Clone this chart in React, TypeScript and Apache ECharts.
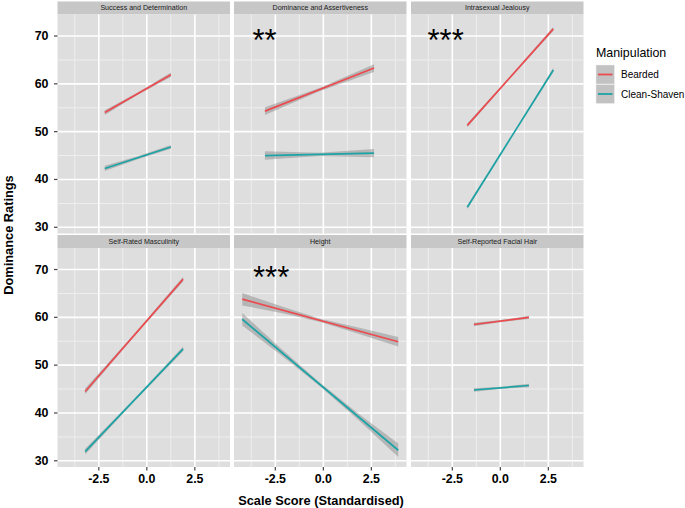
import React, { useEffect, useRef } from "react";
import * as echarts from "echarts";

const panelTitles = [
  "Success and Determination",
  "Dominance and Assertiveness",
  "Intrasexual Jealousy",
  "Self-Rated Masculinity",
  "Height",
  "Self-Reported Facial Hair",
];
const groupNames = ["Bearded", "Clean-Shaven"];
const groupColors = ["#EB4A4E", "#1BA3A6"];
const significance = ["", "**", "***", "", "***", ""];

const xTickLabels = [-2.5, 0, 2.5];
const xMinorTicks = [-3.75, -1.25, 1.25, 3.75];
const yTickLabels = [30, 40, 50, 60, 70];
const yMinorTicks = [35, 45, 55, 65];

// fitted regression lines (endpoints), per panel
const beardedLines = [
  [[-2.19, 54.0], [1.25, 61.9]],
  [[-3.04, 54.3], [2.64, 63.3]],
  [[-1.72, 51.3], [2.76, 71.5]],
  [[-3.21, 44.5], [1.89, 68.0]],
  [[-4.22, 63.8], [3.9, 54.9]],
  [[-1.375, 58.5], [1.49, 60.0]],
];
const cleanLines = [
  [[-2.19, 42.3], [1.25, 46.8]],
  [[-3.04, 45.0], [2.64, 45.5]],
  [[-1.72, 34.2], [2.76, 62.9]],
  [[-3.21, 31.9], [1.89, 53.4]],
  [[-4.22, 59.6], [3.9, 32.2]],
  [[-1.375, 44.8], [1.49, 45.75]],
];

// confidence ribbons: [x, lower, upper]
const beardedBands = [
  [[-2.19, 53.5, 54.5], [-0.47, 57.7, 58.2], [1.25, 61.45, 62.35]],
  [[-3.04, 53.5, 55.1], [-0.2, 58.45, 59.15], [2.64, 62.5, 64.1]],
  [[-1.72, 50.9, 51.7], [0.52, 61.2, 61.6], [2.76, 71.05, 71.95]],
  [[-3.21, 43.9, 45.1], [-0.66, 56.0, 56.5], [1.89, 67.5, 68.5]],
  [[-4.22, 62.5, 65.1], [-2.19, 60.9, 62.3], [-0.16, 59.0, 59.7], [1.87, 56.5, 57.8], [3.9, 53.9, 55.9]],
  [[-1.375, 58.15, 58.85], [0.06, 59.05, 59.45], [1.49, 59.65, 60.35]],
];
const cleanBands = [
  [[-2.19, 41.75, 42.85], [-0.47, 44.25, 44.85], [1.25, 46.4, 47.2]],
  [[-3.04, 44.1, 45.9], [-0.2, 44.9, 45.6], [2.64, 44.65, 46.35]],
  [[-1.72, 33.8, 34.6], [0.52, 48.35, 48.75], [2.76, 62.45, 63.35]],
  [[-3.21, 31.3, 32.5], [-0.66, 42.4, 42.9], [1.89, 52.9, 53.9]],
  [[-4.22, 58.3, 60.9], [-2.19, 52.05, 53.45], [-0.16, 45.55, 46.25], [1.87, 38.35, 39.75], [3.9, 30.8, 33.6]],
  [[-1.375, 44.45, 45.15], [0.06, 45.07, 45.47], [1.49, 45.4, 46.1]],
];

const FONT = "'Liberation Sans', Arial, Helvetica, sans-serif";
const colLeft = [57.5, 234, 411];
const panelW = 172.5;
const rowTop = [14.5, 248];
const panelH = 219;
const stripH = 13;
const X_MIN = -4.65;
const X_MAX = 4.33;
const Y_MIN = 28.7;
const Y_MAX = 74.5;

export default function App() {
  const ref = useRef<HTMLDivElement>(null);

  useEffect(() => {
    if (!ref.current) return;
    const chart = echarts.init(ref.current, undefined, { renderer: "svg" });

    const grids: any[] = [];
    const xAxes: any[] = [];
    const yAxes: any[] = [];
    const series: any[] = [];
    const graphics: any[] = [];

    panelTitles.forEach((title, i) => {
      const col = i % 3;
      const row = Math.floor(i / 3);
      const left = colLeft[col];
      const top = rowTop[row];
      grids.push({
        left,
        top,
        width: panelW,
        height: panelH,
        show: false,
      });
      xAxes.push({
        type: "value",
        gridIndex: i,
        min: X_MIN,
        max: X_MAX,
        axisLine: { show: false },
        splitLine: { show: false },
        axisTick: { show: false },
        axisLabel: {
          show: row === 1,
          customValues: xTickLabels,
          formatter: (v: number) => v.toFixed(1),
          fontFamily: FONT,
          fontWeight: "bold",
          fontSize: 12.4,
          color: "#000",
          margin: 6,
        },
      });
      yAxes.push({
        type: "value",
        gridIndex: i,
        min: Y_MIN,
        max: Y_MAX,
        axisLine: { show: false },
        splitLine: { show: false },
        axisTick: { show: false },
        axisLabel: {
          show: col === 0,
          customValues: yTickLabels,
          formatter: (v: number) => String(v),
          fontFamily: FONT,
          fontWeight: "bold",
          fontSize: 12.4,
          color: "#000",
          margin: 9,
        },
      });

      // panel background, grid lines and ticks (drawn as filled rects through the axes' scales)
      series.push({
        type: "custom",
        xAxisIndex: i,
        yAxisIndex: i,
        silent: true,
        z: 1,
        data: [[xTickLabels[0], yTickLabels[0]]],
        renderItem: (params: any, api: any) => {
          const cs = params.coordSys;
          const children: any[] = [];
          children.push({
            type: "rect",
            shape: { x: cs.x, y: cs.y, width: cs.width, height: cs.height },
            style: { fill: "#DEDEDE" },
          });
          const vLine = (v: number, w: number, fill: string) => {
            const px = api.coord([v, Y_MIN])[0];
            children.push({
              type: "rect",
              shape: { x: px - w / 2, y: cs.y, width: w, height: cs.height },
              style: { fill },
            });
          };
          const hLine = (v: number, w: number, fill: string) => {
            const py = api.coord([X_MIN, v])[1];
            children.push({
              type: "rect",
              shape: { x: cs.x, y: py - w / 2, width: cs.width, height: w },
              style: { fill },
            });
          };
          xMinorTicks.forEach((v) => vLine(v, 1, "#EEEEEE"));
          yMinorTicks.forEach((v) => hLine(v, 1, "#EEEEEE"));
          xTickLabels.forEach((v) => vLine(v, 1.6, "#FFFFFF"));
          yTickLabels.forEach((v) => hLine(v, 1.6, "#FFFFFF"));
          if (col === 0) {
            yTickLabels.forEach((v) => {
              const py = api.coord([X_MIN, v])[1];
              children.push({
                type: "rect",
                shape: { x: cs.x - 3.5, y: py - 0.6, width: 3.5, height: 1.2 },
                style: { fill: "#444444" },
              });
            });
          }
          if (row === 1) {
            xTickLabels.forEach((v) => {
              const px = api.coord([v, Y_MIN])[0];
              children.push({
                type: "rect",
                shape: { x: px - 0.6, y: cs.y + cs.height, width: 1.2, height: 3.5 },
                style: { fill: "#444444" },
              });
            });
          }
          return { type: "group", children };
        },
      });

      [beardedBands[i], cleanBands[i]].forEach((band) => {
        series.push({
          type: "custom",
          xAxisIndex: i,
          yAxisIndex: i,
          silent: true,
          z: 2,
          data: band,
          renderItem: (params: any, api: any) => {
            if (params.dataIndex !== 0) return null;
            const upper = band.map((r) => api.coord([r[0], r[2]]));
            const lower = band.map((r) => api.coord([r[0], r[1]])).reverse();
            return {
              type: "polygon",
              shape: { points: [...upper, ...lower] },
              style: { fill: "rgba(130,130,130,0.45)" },
            };
          },
        });
      });

      [beardedLines[i], cleanLines[i]].forEach((ln, g) => {
        series.push({
          type: "line",
          name: groupNames[g],
          xAxisIndex: i,
          yAxisIndex: i,
          silent: true,
          z: 3,
          symbol: "none",
          data: ln,
          lineStyle: { color: groupColors[g], width: 1.7 },
        });
      });

      // strip
      const stripTop = top - stripH;
      graphics.push({
        type: "rect",
        shape: { x: left, y: stripTop, width: panelW, height: stripH },
        style: { fill: "#C7C7C7" },
        silent: true,
      });
      graphics.push({
        type: "text",
        x: left + panelW / 2,
        y: stripTop + stripH / 2,
        style: {
          text: title,
          fontFamily: FONT,
          fontSize: 7.1,
          fill: "#1A1A1A",
          align: "center",
          verticalAlign: "middle",
          textAlign: "center",
          textVerticalAlign: "middle",
        },
        silent: true,
      });
    });

    // significance stars
    const starPos = [null, [252.5, 40.5], [427.5, 40.5], null, [253, 277], null];
    significance.forEach((s, i) => {
      const p = starPos[i];
      if (!s || !p) return;
      graphics.push({
        type: "text",
        x: p[0],
        y: p[1],
        z: 10,
        style: {
          text: s,
          fontFamily: FONT,
          fontSize: 31,
          fill: "#000",
          align: "left",
          verticalAlign: "middle",
          textAlign: "left",
          textVerticalAlign: "middle",
        },
        silent: true,
      });
    });

    // axis titles
    graphics.push({
      type: "text",
      x: 321,
      y: 500,
      style: {
        text: "Scale Score (Standardised)",
        fontFamily: FONT,
        fontSize: 12.8,
        fontWeight: "bold",
        fill: "#000",
        align: "center",
        verticalAlign: "middle",
        textAlign: "center",
        textVerticalAlign: "middle",
      },
    });
    graphics.push({
      type: "text",
      x: 8,
      y: 235,
      rotation: Math.PI / 2,
      style: {
        text: "Dominance Ratings",
        fontFamily: FONT,
        fontSize: 12.8,
        fontWeight: "bold",
        fill: "#000",
        align: "center",
        verticalAlign: "middle",
        textAlign: "center",
        textVerticalAlign: "middle",
      },
    });

    // legend
    graphics.push({
      type: "text",
      x: 596,
      y: 53,
      style: {
        text: "Manipulation",
        fontFamily: FONT,
        fontSize: 12.4,
        fill: "#000",
        align: "left",
        verticalAlign: "middle",
        textAlign: "left",
        textVerticalAlign: "middle",
      },
    });
    groupNames.forEach((name, g) => {
      const ky = 65 + g * 19.5;
      graphics.push({
        type: "rect",
        shape: { x: 596, y: ky, width: 18.5, height: 19 },
        style: { fill: "#C2C2C2", stroke: "#EFEFEF", lineWidth: 0.5 },
      });
      graphics.push({
        type: "line",
        shape: { x1: 598, y1: ky + 9.5, x2: 612.5, y2: ky + 9.5 },
        style: { stroke: groupColors[g], lineWidth: 1.8 },
      });
      graphics.push({
        type: "text",
        x: 621,
        y: ky + 9.5,
        style: {
          text: name,
          fontFamily: FONT,
          fontSize: 10,
          fill: "#000",
          align: "left",
          verticalAlign: "middle",
          textAlign: "left",
          textVerticalAlign: "middle",
        },
      });
    });

    chart.setOption({
      animation: false,
      backgroundColor: "#FFFFFF",
      grid: grids,
      xAxis: xAxes,
      yAxis: yAxes,
      series,
      graphic: { elements: graphics },
    });

    return () => {
      chart.dispose();
    };
  }, []);

  return (
    <div
      ref={ref}
      style={{ width: 685, height: 508, position: "absolute", left: 0, top: 0 }}
    />
  );
}
